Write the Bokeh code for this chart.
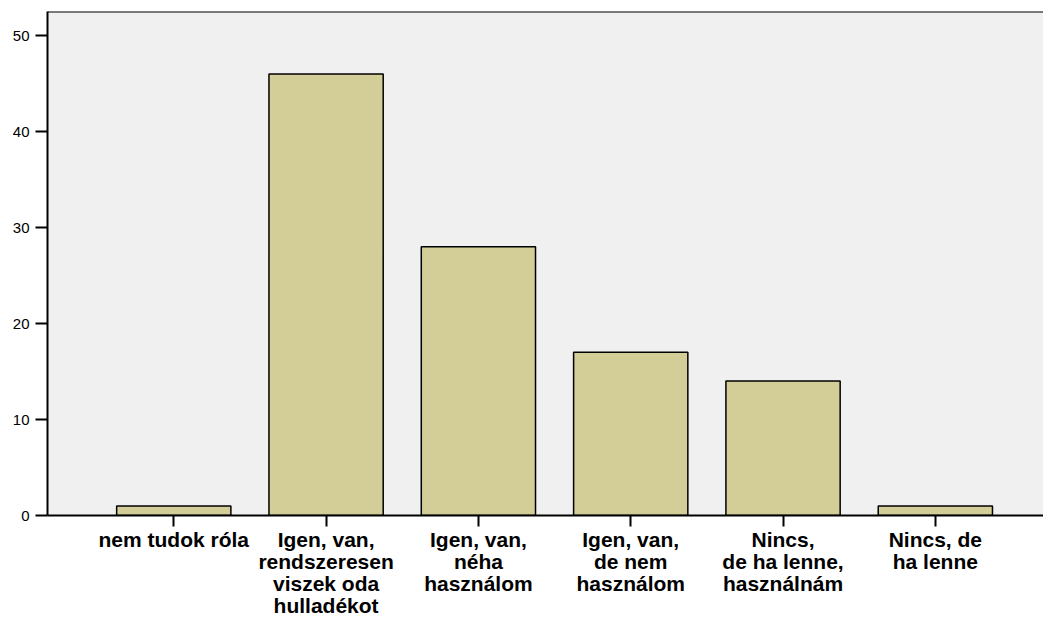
from bokeh.plotting import figure
from bokeh.models import Range1d, FixedTicker, Span
from bokeh.embed import file_html
from bokeh.resources import INLINE

categories = ["nem tudok róla",
              "Igen, van,\nrendszeresen\nviszek oda\nhulladékot",
              "Igen, van,\nnéha\nhasználom",
              "Igen, van,\nde nem\nhasználom",
              "Nincs,\nde ha lenne,\nhasználnám",
              "Nincs, de\nha lenne"]
counts = [1, 46, 28, 17, 14, 1]
y_ticks = [0, 10, 20, 30, 40, 50]

xs = list(range(1, len(categories) + 1))

p = figure(width=1043, height=625, output_backend="svg", toolbar_location=None,
           x_range=Range1d(0.171, 6.71), y_range=Range1d(0, 52.5),
           min_border_left=47, min_border_right=0, min_border_top=11, min_border_bottom=110)

p.border_fill_color = "white"
p.background_fill_color = "#f0f0f0"
p.outline_line_color = None
p.grid.visible = False

p.vbar(x=xs, top=counts, bottom=0, width=0.75, fill_color="#d3ce97",
       line_color="black", line_width=1.5)

p.add_layout(Span(location=52.5, dimension="width", line_color="black", line_width=2))

xa = p.xaxis[0]
xa.ticker = FixedTicker(ticks=xs)
xa.major_label_overrides = {x: c for x, c in zip(xs, categories)}
xa.major_label_text_font = "Liberation Sans"
xa.major_label_text_font_style = "bold"
xa.major_label_text_font_size = "21px"
xa.major_label_text_color = "black"
xa.major_label_text_line_height = 0.96
xa.major_label_standoff = 1
xa.major_tick_in = 0
xa.major_tick_out = 11
xa.major_tick_line_width = 2
xa.minor_tick_line_color = None
xa.axis_line_width = 2
xa.axis_line_color = "black"

ya = p.yaxis[0]
ya.ticker = FixedTicker(ticks=y_ticks)
ya.major_label_text_font = "Liberation Sans"
ya.major_label_text_font_size = "15px"
ya.major_label_text_color = "black"
ya.major_label_standoff = 6
ya.major_tick_in = 0
ya.major_tick_out = 12
ya.major_tick_line_width = 2
ya.minor_tick_line_color = None
ya.axis_line_width = 2
ya.axis_line_color = "black"

open("out.html", "w").write(file_html(p, INLINE))
